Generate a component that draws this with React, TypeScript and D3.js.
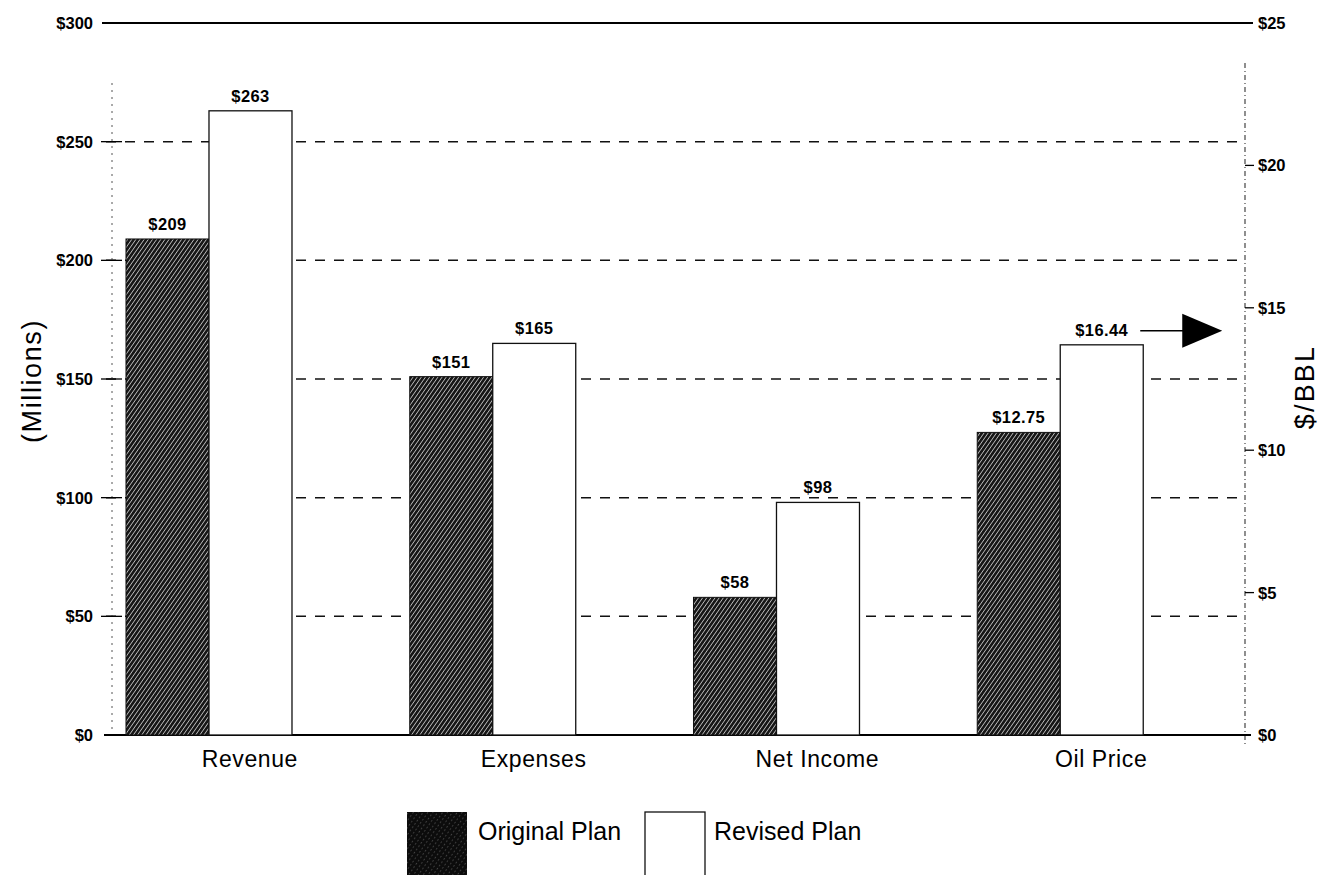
import * as d3 from 'd3';

// values
const categories = ['Revenue', 'Expenses', 'Net Income', 'Oil Price'];
const originalPlan = [209, 151, 58, 12.75];
const revisedPlan = [263, 165, 98, 16.44];
const valueLabels = {
  original: ['$209', '$151', '$58', '$12.75'],
  revised: ['$263', '$165', '$98', '$16.44'],
};
const leftTicks = [0, 50, 100, 150, 200, 250, 300];
const rightTicks = [0, 5, 10, 15, 20, 25];
const seriesKeys = ['original', 'revised'];
const legendLabels = ['Original Plan', 'Revised Plan'];

const W = 1326;
const H = 875;
const plot = { left: 112, right: 1245, top: 23, bottom: 735 };
const font = '"Liberation Sans", Arial, Helvetica, sans-serif';

export default function App() {
  const yLeft = d3.scaleLinear().domain([0, 300]).range([plot.bottom, plot.top]);
  const yRight = d3.scaleLinear().domain([0, 25]).range([plot.bottom, plot.top]);
  // the original drew the oil price bars on a 0–30 scale, not against the $/BBL axis
  const yOil = d3.scaleLinear().domain([0, 30]).range([plot.bottom, plot.top]);

  const x = d3.scaleBand<string>().domain(categories).range([108, 1243]).padding(0);
  const bw = x.bandwidth();
  const xSub = d3
    .scaleBand<string>()
    .domain(seriesKeys)
    .range([bw * 0.0634, bw * 0.0634 + 166])
    .padding(0);

  const yFor = (i: number) => (i === 3 ? yOil : yLeft);
  const gridTicks = leftTicks.filter(t => t > 0 && t < 300);

  const oilIdx = 3;
  const oilRight = (x(categories[oilIdx]) ?? 0) + (xSub('revised') ?? 0) + xSub.bandwidth();
  const oilLabelY = yOil(revisedPlan[oilIdx]) - 14;

  return (
    <svg
      width={W}
      height={H}
      style={{ position: 'absolute', left: 0, top: 0, background: '#fff' }}
      fontFamily={font}
    >
      <defs>
        <pattern id="hatch" width="3.4" height="3.4" patternUnits="userSpaceOnUse" patternTransform="rotate(35)">
          <rect width="3.4" height="3.4" fill="#161616" />
          <line x1="0" y1="0" x2="0" y2="3.4" stroke="#e6e6e6" strokeWidth="1.35" />
        </pattern>
        <pattern id="hatchDark" width="4" height="4" patternUnits="userSpaceOnUse" patternTransform="rotate(35)">
          <rect width="4" height="4" fill="#0c0c0c" />
          <line x1="0" y1="0" x2="0" y2="1.6" stroke="#9a9a9a" strokeWidth="0.8" />
        </pattern>
      </defs>

      {/* dashed gridlines */}
      {gridTicks.map(t => (
        <line
          key={'g' + t}
          x1={106}
          x2={1240}
          y1={yLeft(t)}
          y2={yLeft(t)}
          stroke="#111"
          strokeWidth={1.5}
          strokeDasharray="10,9"
        />
      ))}

      {/* axes */}
      <line x1={plot.left} x2={plot.left} y1={plot.top + 60} y2={plot.bottom} stroke="#555" strokeWidth={1} strokeDasharray="2,5" />
      <line x1={plot.right} x2={plot.right} y1={plot.top + 40} y2={plot.bottom + 12} stroke="#333" strokeWidth={1.1} strokeDasharray="5,3,1,3" />
      <line x1={102} x2={1253} y1={yLeft(300)} y2={yLeft(300)} stroke="#000" strokeWidth={2} />
      <line x1={104} x2={1251} y1={yLeft(0)} y2={yLeft(0)} stroke="#000" strokeWidth={2} />

      {leftTicks.map(t => (
        <g key={'l' + t}>
          {t > 0 && t < 300 && <line x1={101} x2={122} y1={yLeft(t)} y2={yLeft(t)} stroke="#000" strokeWidth={1.3} />}
          <text x={93} y={yLeft(t)} dy="0.36em" textAnchor="end" fontSize={16.5} fontWeight="bold">
            ${t}
          </text>
        </g>
      ))}
      {rightTicks.map(t => (
        <g key={'r' + t}>
          {t > 0 && t < 25 && <line x1={plot.right} x2={1254} y1={yRight(t)} y2={yRight(t)} stroke="#000" strokeWidth={1.3} />}
          <text x={1258} y={yRight(t)} dy="0.36em" textAnchor="start" fontSize={16.5} fontWeight="bold">
            ${t}
          </text>
        </g>
      ))}

      {/* bars */}
      {categories.map((c, i) => {
        const x0 = x(c) ?? 0;
        const y = yFor(i);
        const vals = [originalPlan[i], revisedPlan[i]];
        return (
          <g key={c}>
            {seriesKeys.map((k, j) => {
              const bx = x0 + (xSub(k) ?? 0);
              const by = y(vals[j]);
              return (
                <g key={k}>
                  <rect
                    x={bx}
                    y={by}
                    width={xSub.bandwidth()}
                    height={plot.bottom - by}
                    fill={j === 0 ? 'url(#hatch)' : '#fff'}
                    stroke="#111"
                    strokeWidth={j === 0 ? 1 : 1.3}
                  />
                  <text
                    x={bx + xSub.bandwidth() / 2}
                    y={by - 9}
                    textAnchor="middle"
                    fontSize={16.5}
                    fontWeight="bold"
                    letterSpacing={0.4}
                  >
                    {valueLabels[k as 'original' | 'revised'][i]}
                  </text>
                </g>
              );
            })}
            <text x={x0 + bw / 2} y={767} textAnchor="middle" fontSize={23} letterSpacing={0.6}>
              {c}
            </text>
          </g>
        );
      })}

      {/* arrow pointing at the $/BBL axis */}
      <line x1={oilRight - 3} x2={oilRight + 40} y1={oilLabelY} y2={oilLabelY} stroke="#000" strokeWidth={1.6} />
      <path
        d={`M${oilRight + 39},${oilLabelY - 17} L${oilRight + 79},${oilLabelY} L${oilRight + 39},${oilLabelY + 17} Z`}
        fill="#000"
      />

      {/* axis titles */}
      <text transform={`translate(41,${(plot.top + plot.bottom) / 2 + 2}) rotate(-90)`} textAnchor="middle" fontSize={27} letterSpacing={1.6}>
        (Millions)
      </text>
      <text transform={`translate(1314,${(plot.top + plot.bottom) / 2 + 8}) rotate(-90)`} textAnchor="middle" fontSize={27} letterSpacing={2.2}>
        $/BBL
      </text>

      {/* legend */}
      <rect x={407} y={812} width={60} height={70} fill="url(#hatchDark)" />
      <text x={478} y={840} fontSize={25}>
        {legendLabels[0]}
      </text>
      <rect x={645} y={812} width={60} height={70} fill="#fff" stroke="#111" strokeWidth={1.3} />
      <text x={714} y={840} fontSize={25}>
        {legendLabels[1]}
      </text>
    </svg>
  );
}
